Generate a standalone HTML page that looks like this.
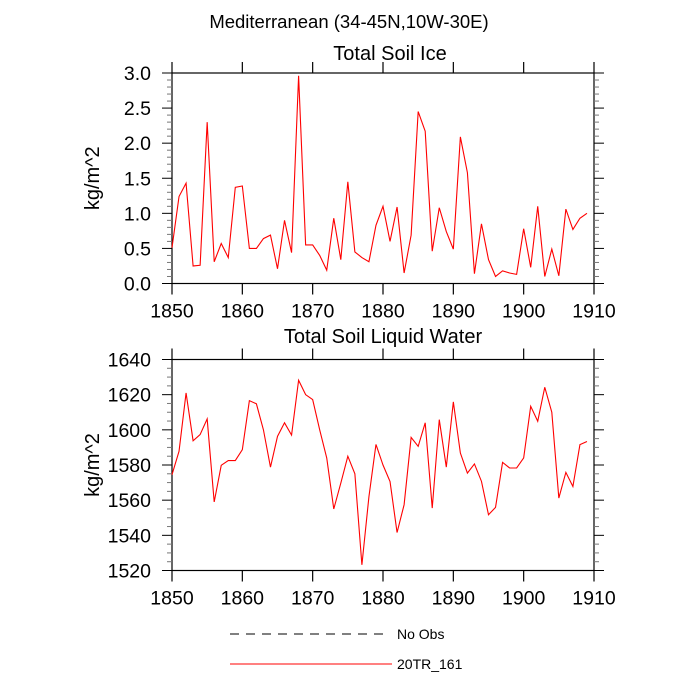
<!DOCTYPE html>
<html><head><meta charset="utf-8"><style>
html,body{margin:0;padding:0;background:#fff;}
svg{display:block;font-family:"Liberation Sans",Arial,sans-serif;}
</style></head><body>
<svg id="chart" width="700" height="700" viewBox="0 0 700 700">
<text x="349" y="28" text-anchor="middle" font-size="18.5">Mediterranean (34-45N,10W-30E)</text>
<text x="390" y="60" text-anchor="middle" font-size="20">Total Soil Ice</text>
<text x="383" y="343" text-anchor="middle" font-size="20">Total Soil Liquid Water</text>
<g id="top"></g>
<g id="bot"></g>
<g>
<line x1="230" y1="634" x2="385" y2="634" stroke="#000" stroke-width="1" stroke-dasharray="9,7"/>
<text x="397" y="639" font-size="14">No Obs</text>
<line x1="230" y1="664" x2="392" y2="664" stroke="#f00" stroke-width="1"/>
<text x="397" y="669" font-size="14">20TR_161</text>
</g>
</svg>
<script>
const years = [];
for (let y = 1850; y <= 1909; y++) years.push(y);
const xTicks = [1850,1860,1870,1880,1890,1900,1910];
const iceTicks = [0.0,0.5,1.0,1.5,2.0,2.5,3.0];
const waterTicks = [1520,1540,1560,1580,1600,1620,1640];
const iceValues = [0.51,1.24,1.43,0.25,0.26,2.30,0.31,0.57,0.37,1.37,
1.39,0.50,0.50,0.64,0.69,0.21,0.90,0.44,2.96,0.55,
0.55,0.40,0.19,0.93,0.34,1.45,0.45,0.37,0.31,0.83,
1.10,0.60,1.09,0.15,0.69,2.45,2.17,0.46,1.08,0.74,
0.49,2.09,1.58,0.14,0.85,0.34,0.10,0.18,0.15,0.13,
0.78,0.23,1.10,0.10,0.49,0.11,1.06,0.77,0.93,1.00];
const waterValues = [1574.5,1587.8,1621,1593.8,1597.3,1606.2,1559,1579.8,1582.5,1582.5,
1588.7,1616.6,1614.8,1600,1578.8,1596.3,1604,1597,1628.2,1620,
1617.2,1600,1584,1555,1569.7,1585,1575,1523.2,1562,1591.7,
1580,1570.6,1541.6,1557.4,1595.7,1590.6,1604,1555.5,1605.8,1578.8,
1615.9,1586.8,1575.4,1580.6,1570.7,1551.7,1555.9,1581.5,1578.3,1578.3,
1584,1613.4,1604.9,1624.2,1610,1561.2,1575.8,1567.8,1591.6,1593.4];

const NS = "http://www.w3.org/2000/svg";
function mk(tag, attrs, parent){const e=document.createElementNS(NS,tag);for(const k in attrs)e.setAttribute(k,attrs[k]);parent.appendChild(e);return e;}

function panel(g, x0, x1, yTop, yBot, ymin, ymax, yticks, minorStep, values, fmt, prefix){
  const sx = v => x0 + (v-1850)/60*(x1-x0);
  const sy = v => yBot - (v-ymin)/(ymax-ymin)*(yBot-yTop);
  const fr = mk('rect',{x:x0,y:yTop,width:x1-x0,height:yBot-yTop,fill:'none',stroke:'#000','stroke-width':1.2},g);
  
  
  xTicks.forEach(t=>{
    const X = sx(t);
    const a = mk('line',{x1:X,y1:yBot,x2:X,y2:yBot+11,stroke:'#000','stroke-width':1.2},g);
    
    
    const b = mk('line',{x1:X,y1:yTop,x2:X,y2:yTop-11,stroke:'#000','stroke-width':1.2},g);
    
    
    const tx = mk('text',{x:X,y:yBot+34,'text-anchor':'middle','font-size':19.5},g);
    tx.textContent = t;
    
    
  });
  for (let v = ymin; v <= ymax + 1e-9; v += minorStep){
    const Y = sy(v);
    const isMajor = yticks.some(t=>Math.abs(t-v)<1e-6);
    const len = isMajor ? 10 : 5;
    const c = isMajor ? '#000' : '#777';
    const l = mk('line',{x1:x0,y1:Y,x2:x0-len,y2:Y,stroke:c,'stroke-width':1},g);
    
    
    const r = mk('line',{x1:x1,y1:Y,x2:x1+len,y2:Y,stroke:c,'stroke-width':1},g);
    
    
  }
  yticks.forEach(t=>{
    const tx = mk('text',{x:x0-21,y:sy(t)+7,'text-anchor':'end','font-size':19.5},g);
    tx.textContent = fmt(t);
    
    
  });
  const yc = (yTop+yBot)/2;
  const yl = mk('text',{x:0,y:0,'text-anchor':'middle','font-size':20,transform:`translate(99,${yc}) rotate(-90)`},g);
  yl.textContent = 'kg/m^2';
  
  
  const pts = values.map((v,i)=>sx(years[i]).toFixed(2)+','+sy(v).toFixed(2)).join(' ');
  const pl = mk('polyline',{points:pts,fill:'none',stroke:'#f00','stroke-width':1.1},g);
  
  
}
panel(document.getElementById('top'),172,594,73,283.5,0,3,iceTicks,0.1,iceValues,v=>v.toFixed(1),'ice');
panel(document.getElementById('bot'),172,594,359.5,570.5,1520,1640,waterTicks,5,waterValues,v=>String(v),'water');
</script>
</body></html>
